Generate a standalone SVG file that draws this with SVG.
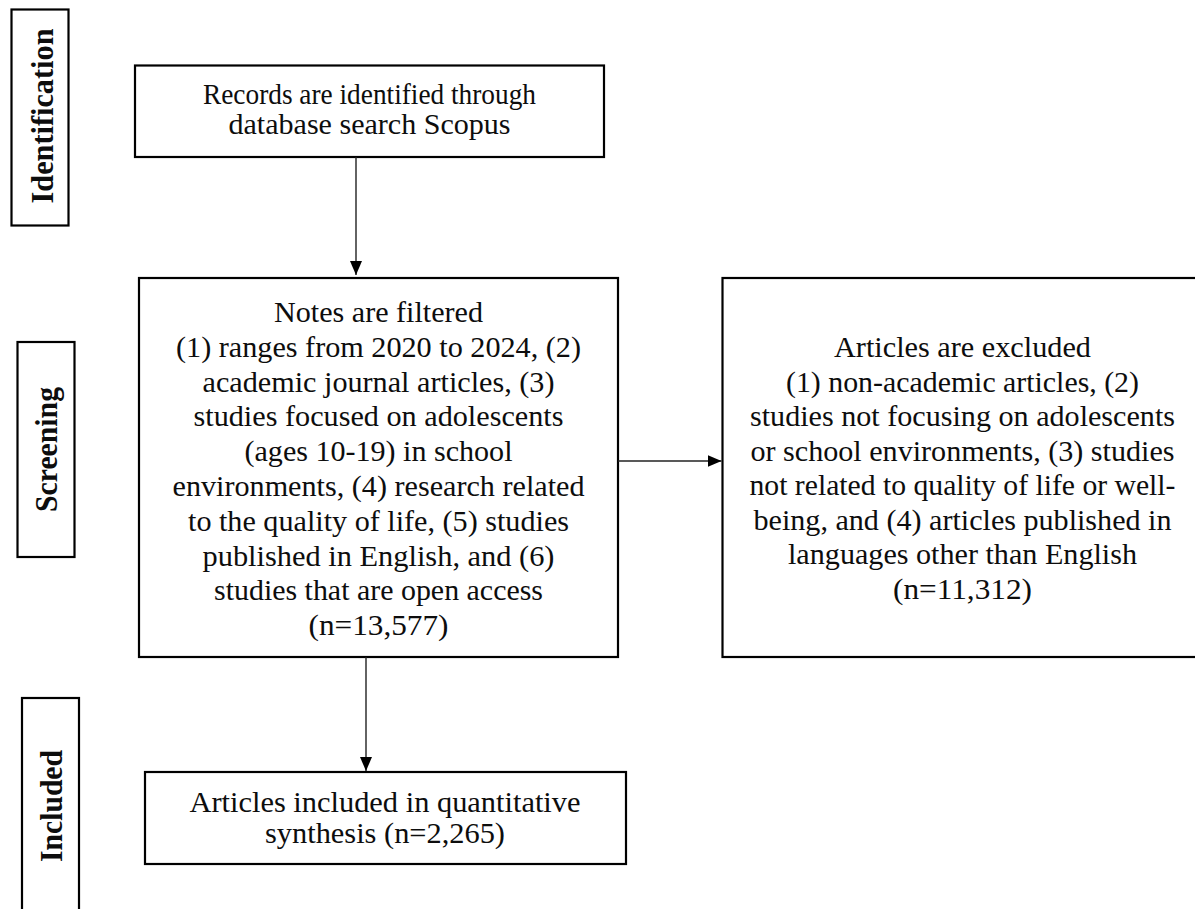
<svg xmlns="http://www.w3.org/2000/svg" width="1195" height="909" viewBox="0 0 1195 909">
<style>
.box{fill:#fff;stroke:#000;stroke-width:2.2}
.t{font-family:"Liberation Serif","Times New Roman",serif;font-size:30px;fill:#0d0d0d;text-anchor:middle}
.lbl{font-family:"Liberation Serif","Times New Roman",serif;font-size:31px;font-weight:bold;fill:#0d0d0d;text-anchor:middle}
.conn{stroke:#222;stroke-width:1.4;fill:none}
</style>
<defs>
<marker id="arr" viewBox="0 0 14 12" refX="14" refY="6" markerWidth="14" markerHeight="12" markerUnits="userSpaceOnUse" orient="auto">
<path d="M0,0 L14,6 L0,12 z" fill="#000"/>
</marker>
</defs>
<rect width="1195" height="909" fill="#fff"/>
<g id="stage-identification">
<rect class="box" x="11.5" y="9.5" width="57" height="216"/>
<text class="lbl" transform="translate(53,116) rotate(-90)" textLength="175" lengthAdjust="spacingAndGlyphs">Identification</text>
</g>
<g id="stage-screening">
<rect class="box" x="17.5" y="342" width="57" height="215"/>
<text class="lbl" transform="translate(57,449.5) rotate(-90)" textLength="125" lengthAdjust="spacingAndGlyphs">Screening</text>
</g>
<g id="stage-included">
<rect class="box" x="22" y="698" width="57" height="216"/>
<text class="lbl" transform="translate(61.5,806) rotate(-90)" textLength="112" lengthAdjust="spacingAndGlyphs">Included</text>
</g>
<g id="node-records">
<rect class="box" x="135" y="65.5" width="469" height="91.5"/>
<text class="t" x="369.5" y="104" textLength="333" lengthAdjust="spacingAndGlyphs">Records are identified through</text>
<text class="t" x="369.5" y="134" textLength="282" lengthAdjust="spacingAndGlyphs">database search Scopus</text>
</g>
<g id="node-filtered">
<rect class="box" x="139" y="278" width="479" height="379"/>
<text class="t" x="378.5" y="322" textLength="209" lengthAdjust="spacingAndGlyphs">Notes are filtered</text>
<text class="t" x="378.5" y="356.8" textLength="405" lengthAdjust="spacingAndGlyphs">(1) ranges from 2020 to 2024, (2)</text>
<text class="t" x="378.5" y="391.6" textLength="352" lengthAdjust="spacingAndGlyphs">academic journal articles, (3)</text>
<text class="t" x="378.5" y="426.4" textLength="370" lengthAdjust="spacingAndGlyphs">studies focused on adolescents</text>
<text class="t" x="378.5" y="461.2" textLength="268" lengthAdjust="spacingAndGlyphs">(ages 10-19) in school</text>
<text class="t" x="378.5" y="496" textLength="412" lengthAdjust="spacingAndGlyphs">environments, (4) research related</text>
<text class="t" x="378.5" y="530.8" textLength="381" lengthAdjust="spacingAndGlyphs">to the quality of life, (5) studies</text>
<text class="t" x="378.5" y="565.6" textLength="352" lengthAdjust="spacingAndGlyphs">published in English, and (6)</text>
<text class="t" x="378.5" y="600.4" textLength="329" lengthAdjust="spacingAndGlyphs">studies that are open access</text>
<text class="t" x="378.5" y="635.2" textLength="140" lengthAdjust="spacingAndGlyphs">(n=13,577)</text>
</g>
<g id="node-excluded">
<rect class="box" x="722.5" y="278" width="481" height="379"/>
<text class="t" x="962.5" y="357" textLength="257" lengthAdjust="spacingAndGlyphs">Articles are excluded</text>
<text class="t" x="962.5" y="391.5" textLength="353" lengthAdjust="spacingAndGlyphs">(1) non-academic articles, (2)</text>
<text class="t" x="962.5" y="426" textLength="425" lengthAdjust="spacingAndGlyphs">studies not focusing on adolescents</text>
<text class="t" x="962.5" y="460.5" textLength="424" lengthAdjust="spacingAndGlyphs">or school environments, (3) studies</text>
<text class="t" x="962.5" y="495" textLength="426" lengthAdjust="spacingAndGlyphs">not related to quality of life or well-</text>
<text class="t" x="962.5" y="529.5" textLength="418" lengthAdjust="spacingAndGlyphs">being, and (4) articles published in</text>
<text class="t" x="962.5" y="564" textLength="349" lengthAdjust="spacingAndGlyphs">languages other than English</text>
<text class="t" x="962.5" y="598.5" textLength="139" lengthAdjust="spacingAndGlyphs">(n=11,312)</text>
</g>
<g id="node-included">
<rect class="box" x="145" y="772" width="481" height="92"/>
<text class="t" x="385" y="812" textLength="391" lengthAdjust="spacingAndGlyphs">Articles included in quantitative</text>
<text class="t" x="385" y="843" textLength="240" lengthAdjust="spacingAndGlyphs">synthesis (n=2,265)</text>
</g>
<g id="connectors">
<line class="conn" x1="356" y1="157" x2="356" y2="275" marker-end="url(#arr)"/>
<line class="conn" x1="618" y1="461" x2="721.5" y2="461" marker-end="url(#arr)"/>
<line class="conn" x1="366" y1="657" x2="366" y2="771" marker-end="url(#arr)"/>
</g>
</svg>
